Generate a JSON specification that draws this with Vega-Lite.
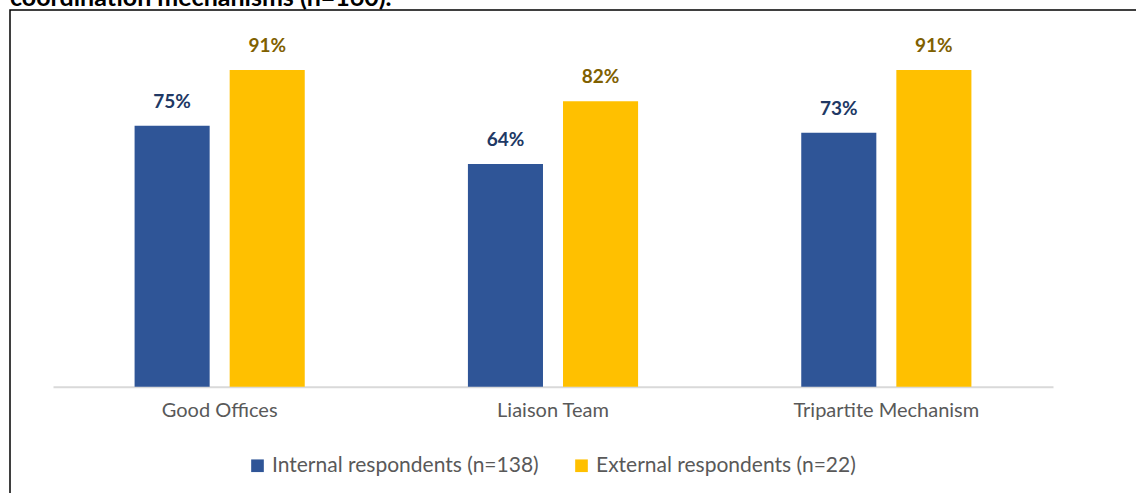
{
  "$schema": "https://vega.github.io/schema/vega-lite/v6.json",
  "autosize": "none",
  "padding": {"left": 10, "top": 10, "right": 0, "bottom": 0},
  "width": 1136,
  "height": 493,
  "background": "white",
  "config": {
    "view": {"stroke": "black", "strokeWidth": 1.5},
    "font": "Lato"
  },
  "title": {
    "text": "coordination mechanisms (n=160).",
    "anchor": "start",
    "frame": "group",
    "orient": "top",
    "baseline": "alphabetic",
    "offset": 0,
    "dy": 21,
    "dx": 0,
    "fontSize": 25,
    "fontWeight": "bold",
    "font": "Lato",
    "color": "black"
  },
  "data": {
    "values": [
      {"mechanism": "Good Offices", "group": "Internal respondents (n=138)", "value": 0.75},
      {"mechanism": "Good Offices", "group": "External respondents (n=22)", "value": 0.91},
      {"mechanism": "Liaison Team", "group": "Internal respondents (n=138)", "value": 0.64},
      {"mechanism": "Liaison Team", "group": "External respondents (n=22)", "value": 0.82},
      {"mechanism": "Tripartite Mechanism", "group": "Internal respondents (n=138)", "value": 0.73},
      {"mechanism": "Tripartite Mechanism", "group": "External respondents (n=22)", "value": 0.91}
    ]
  },
  "encoding": {
    "x": {
      "field": "mechanism",
      "type": "nominal",
      "sort": ["Good Offices", "Liaison Team", "Tripartite Mechanism"],
      "scale": {"range": [43, 1043], "paddingInner": 0, "paddingOuter": 0},
      "axis": {
        "title": null,
        "labelAngle": 0,
        "ticks": false,
        "offset": -116.3,
        "domainColor": "#D9D9D9",
        "domainWidth": 2,
        "labelFont": "Lato",
        "labelFontSize": 20,
        "labelColor": "#595959",
        "labelPadding": 14,
        "labelLimit": 400
      }
    },
    "xOffset": {
      "field": "group",
      "type": "nominal",
      "scale": {
        "domain": ["Internal respondents (n=138)", "External respondents (n=22)"],
        "paddingInner": 0.2105,
        "paddingOuter": 0.858
      }
    },
    "y": {
      "field": "value",
      "type": "quantitative",
      "scale": {"domain": [0, 1], "range": [376.7, 28.7]},
      "axis": null
    }
  },
  "layer": [
    {
      "mark": {"type": "bar"},
      "encoding": {
        "color": {
          "field": "group",
          "type": "nominal",
          "scale": {
            "domain": ["Internal respondents (n=138)", "External respondents (n=22)"],
            "range": ["#2F5597", "#FFC000"]
          },
          "legend": {
            "title": null,
            "orient": "none",
            "direction": "horizontal",
            "legendX": 237,
            "legendY": 445,
            "symbolType": "square",
            "symbolSize": 160,
            "symbolStrokeWidth": 0,
            "labelFont": "Lato",
            "labelFontSize": 21,
            "labelColor": "#595959",
            "labelOffset": 4,
            "labelLimit": 400,
            "columnPadding": 32
          }
        }
      }
    },
    {
      "mark": {"type": "text", "baseline": "alphabetic", "dy": -18, "fontSize": 19, "fontWeight": "bold", "font": "Lato"},
      "encoding": {
        "text": {"field": "value", "type": "quantitative", "format": ".0%"},
        "color": {
          "field": "group",
          "type": "nominal",
          "scale": {
            "domain": ["Internal respondents (n=138)", "External respondents (n=22)"],
            "range": ["#203864", "#7F6000"]
          },
          "legend": null
        }
      }
    }
  ],
  "resolve": {"scale": {"color": "independent"}}
}
